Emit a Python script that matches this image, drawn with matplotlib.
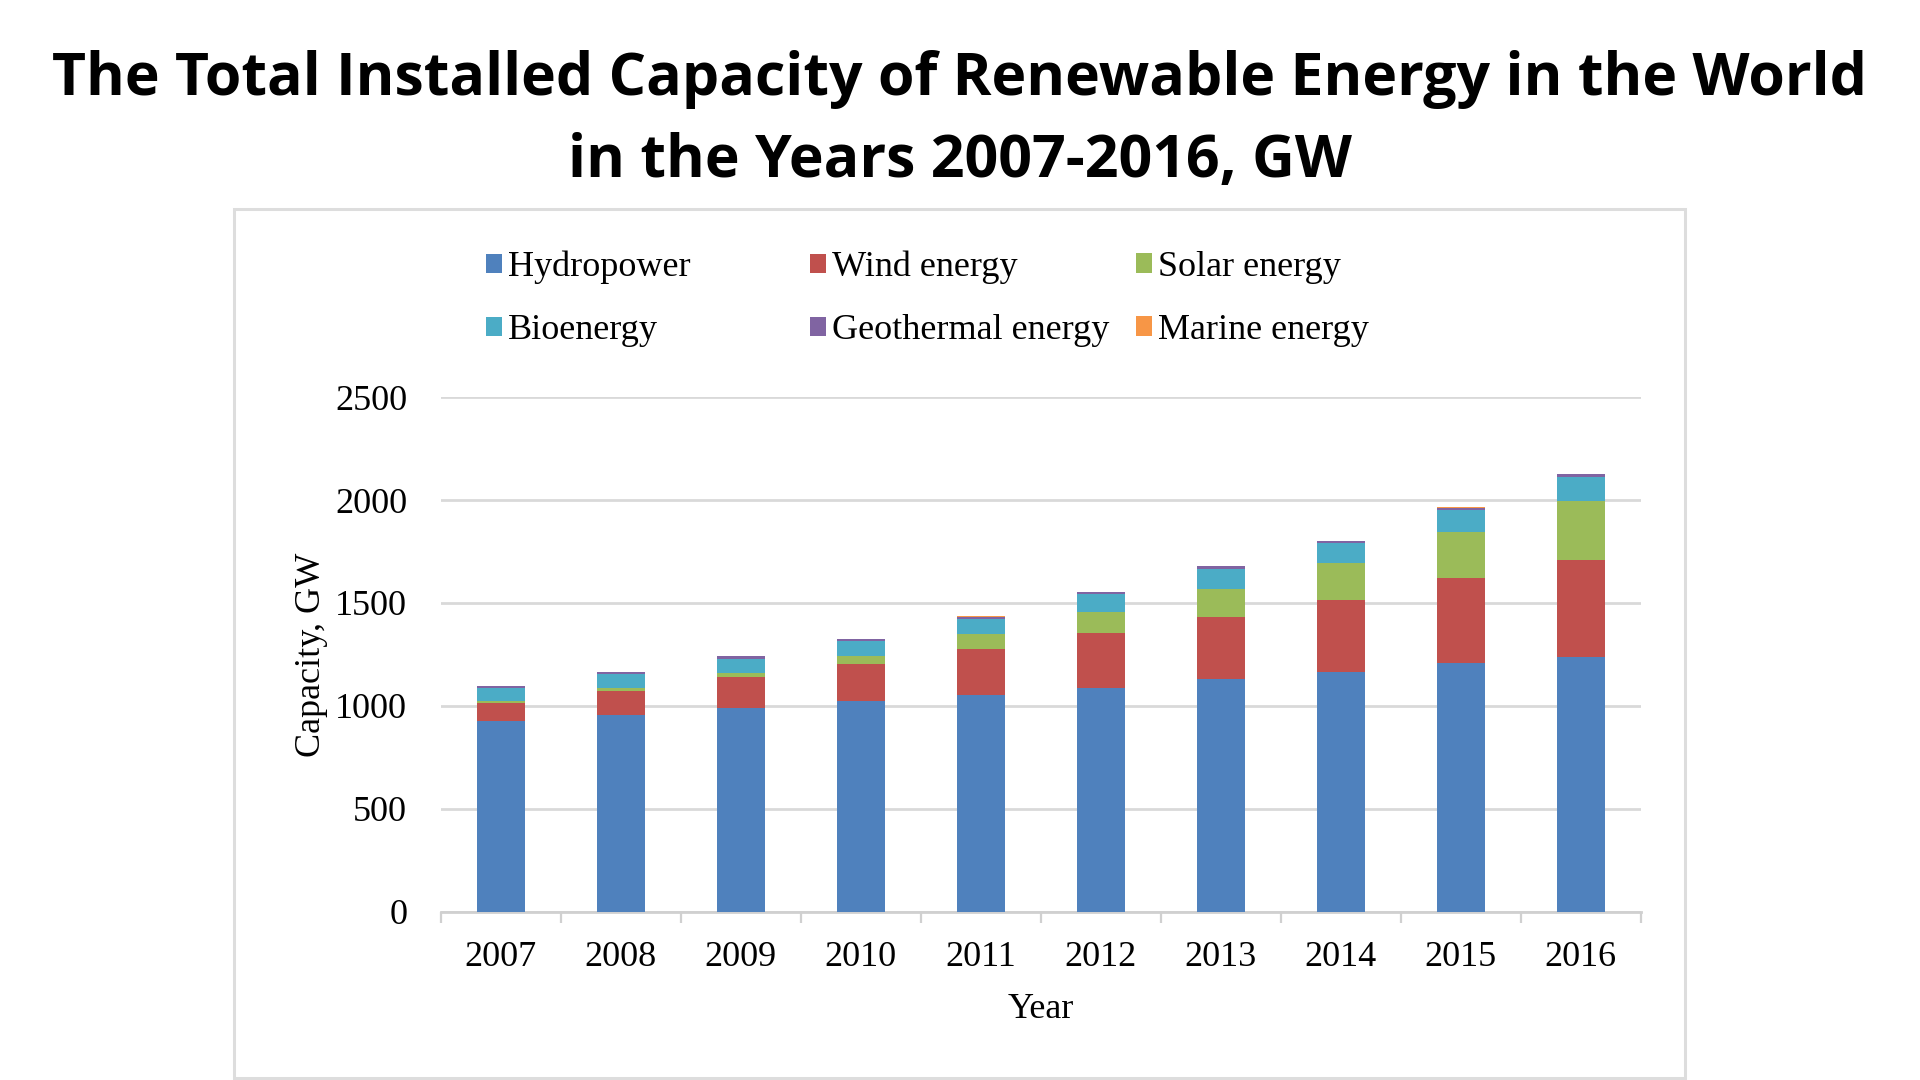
import matplotlib
matplotlib.use("Agg")
import matplotlib.pyplot as plt
from matplotlib.patches import Rectangle
import numpy as np

years = ["2007", "2008", "2009", "2010", "2011", "2012", "2013", "2014", "2015", "2016"]
hydropower = [926, 955, 987, 1023, 1055, 1088, 1130, 1165, 1206, 1238]
wind_energy = [90, 117, 151, 180, 221, 267, 300, 349, 414, 471]
solar_energy = [8, 13, 22, 40, 71, 102, 139, 179, 223, 288]
bioenergy = [61, 69, 70, 72, 76, 86, 97, 97, 109, 117]
geothermal_energy = [10, 10, 11, 11, 11, 11, 12, 12, 12, 12]
marine_energy = [0.5, 0.5, 0.5, 0.5, 0.5, 0.5, 0.5, 0.5, 0.5, 0.5]

series_names = ["Hydropower", "Wind energy", "Solar energy", "Bioenergy",
                "Geothermal energy", "Marine energy"]
series_values = [hydropower, wind_energy, solar_energy, bioenergy,
                 geothermal_energy, marine_energy]
colors = ["#4F81BD", "#C0504D", "#9BBB59", "#4BACC6", "#8064A2", "#F79646"]

title_lines = ["The Total Installed Capacity of Renewable Energy in the World",
               "in the Years 2007-2016, GW"]

W, H = 1920, 1080
fig = plt.figure(figsize=(19.2, 10.8), dpi=100)
fig.patch.set_facecolor("white")

serif = ["Liberation Serif", "DejaVu Serif"]
fs = 26

# chart border
fig.patches.append(Rectangle((234 / W, 1 - 1078 / H), (1685 - 234) / W, (1078 - 209) / H,
                             transform=fig.transFigure, fill=False,
                             edgecolor="#DDDDDD", linewidth=2.2, zorder=0))

# title
fig.text(0.5, 1 - 95 / H, title_lines[0], ha="center", va="baseline",
         fontsize=42.5, fontweight="bold", family=["Open Sans", "DejaVu Sans"])
fig.text(0.5, 1 - 177 / H, title_lines[1], ha="center", va="baseline",
         fontsize=42.5, fontweight="bold", family=["Open Sans", "DejaVu Sans"])

ax = fig.add_axes([440.5 / W, 1 - 911.5 / H, (1640.5 - 440.5) / W, (911.5 - 397.3) / H])
x = np.arange(len(years))
bottom = np.zeros(len(years))
handles = []
for name, vals, c in zip(series_names, series_values, colors):
    vals = np.array(vals, dtype=float)
    b = ax.bar(x, vals, width=0.4, bottom=bottom, color=c, label=name, zorder=3)
    handles.append(b)
    bottom += vals

ax.set_xlim(-0.5, len(years) - 0.5)
ax.set_ylim(0, 2500)
ax.set_yticks([0, 500, 1000, 1500, 2000, 2500])
ax.yaxis.grid(True, color="#D9D9D9", linewidth=2.0, zorder=0)
ax.set_axisbelow(True)
for s in ["top", "right", "left"]:
    ax.spines[s].set_visible(False)
ax.spines["bottom"].set_color("#D0D0D0")
ax.spines["bottom"].set_linewidth(2.0)
ax.tick_params(axis="y", length=0, pad=24, labelsize=fs)
ax.set_xticks(x)
ax.set_xticklabels(years)
ax.tick_params(axis="x", which="major", length=0, pad=21, labelsize=fs)
ax.set_xticks(np.arange(-0.5, len(years), 1.0), minor=True)
ax.tick_params(axis="x", which="minor", length=8, width=1.6, color="#D0D0D0", direction="out")
for lab in ax.get_xticklabels() + ax.get_yticklabels():
    lab.set_family(serif)
ax.set_xlabel("Year", fontsize=fs, family=serif, labelpad=14)
ax.set_ylabel("Capacity, GW", fontsize=fs, family=serif, labelpad=5)

# legend: three columns with equal spacing, rows filled left-to-right
col_x = [486, 810, 1136]
for ci in range(3):
    hs = [handles[ci], handles[ci + 3]]
    ls = [series_names[ci], series_names[ci + 3]]
    fig.legend(hs, ls, loc="upper left", bbox_to_anchor=(col_x[ci] / W, 1 - 251 / H),
               frameon=False, prop={"family": serif, "size": fs},
               handlelength=0.45, handleheight=0.45, handletextpad=0.15,
               labelspacing=0.83, borderaxespad=0, borderpad=0)

fig.savefig("out.png", dpi=100, facecolor="white")
